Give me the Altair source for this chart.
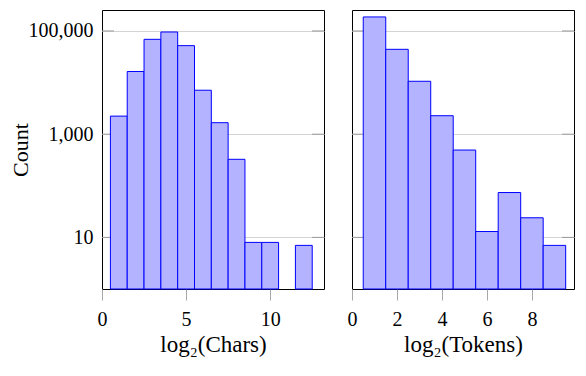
import altair as alt
import pandas as pd

# ---- data ----
chars_bins = [1, 2, 3, 4, 5, 6, 7, 8, 9, 10, 12]
chars_counts = [2240, 16400, 68900, 95600, 52000, 7110, 1670, 326, 8, 8, 7]
tokens_bins = [1, 2, 3, 4, 5, 6, 7, 8, 9]
tokens_counts = [187000, 44100, 10600, 2280, 493, 13, 74, 24, 7]
y_ticks = [10, 1000, 100000]
chars_ticks = [0, 5, 10]
tokens_ticks = [0, 2, 4, 6, 8]
chars_domain = [0, 13.2]
tokens_domain = [0, 9.87]
y_domain = [1, 255000]

FONT = "Liberation Serif, Times New Roman, serif"
W, H = 222, 279
TICK_LEN = 12


def panel(bins, counts, xdomain, xticks, xtitle, show_y):
    df = pd.DataFrame({"c": bins, "n": counts})
    df["lo"] = df["c"] - 0.5
    df["hi"] = df["c"] + 0.5
    df["base"] = 1
    yscale = alt.Scale(type="log", domain=y_domain, nice=False)
    xscale = alt.Scale(domain=xdomain, nice=False, zero=False)

    if show_y:
        yaxis = alt.Axis(
            values=y_ticks, format=",", labels=True, ticks=False, domain=False,
            grid=True, gridColor="#d4d4d4", gridWidth=1,
            labelPadding=9, titlePadding=-4, title="Count",
        )
    else:
        yaxis = alt.Axis(
            values=y_ticks, labels=False, ticks=False, domain=False,
            grid=True, gridColor="#d4d4d4", gridWidth=1, title=None,
        )

    bars = alt.Chart(df).mark_bar(
        fill="#b3b3ff", stroke="#0000ff", strokeWidth=1
    ).encode(
        x=alt.X("lo:Q", scale=xscale, axis=alt.Axis(
            values=xticks, title=xtitle, grid=False, domain=False,
            tickSize=11, tickColor="#a8a8a8", labelPadding=9,
            titlePadding=4, labelFlush=False)),
        x2="hi:Q",
        y=alt.Y("n:Q", scale=yscale, axis=yaxis),
        y2="base:Q",
    )
    tdf = pd.DataFrame({"n": y_ticks})
    lt = alt.Chart(tdf).mark_rule(color="#9a9a9a", strokeWidth=1).encode(
        y=alt.Y("n:Q", scale=yscale, axis=yaxis),
        x=alt.value(0), x2=alt.value(TICK_LEN),
    )
    rt = alt.Chart(tdf).mark_rule(color="#9a9a9a", strokeWidth=1).encode(
        y=alt.Y("n:Q", scale=yscale, axis=yaxis),
        x=alt.value(W - TICK_LEN), x2=alt.value(W),
    )
    return alt.layer(lt, rt, bars).properties(width=W, height=H)


left = panel(chars_bins, chars_counts, chars_domain, chars_ticks, "log₂(Chars)", True)
right = panel(tokens_bins, tokens_counts, tokens_domain, tokens_ticks, "log₂(Tokens)", False)

chart = alt.hconcat(left, right, spacing=21).properties(
    padding={"left": 0, "top": 1, "right": 0, "bottom": 0}
).configure_view(
    stroke="black", strokeWidth=1
).configure_axis(
    labelFont=FONT, titleFont=FONT, labelFontSize=20,
    labelColor="black", titleColor="black", titleFontWeight="normal",
).configure_axisX(
    titleFontSize=23
).configure_axisY(
    titleFontSize=22
)

chart.save("out.html", embed_options={"renderer": "svg", "actions": False})
